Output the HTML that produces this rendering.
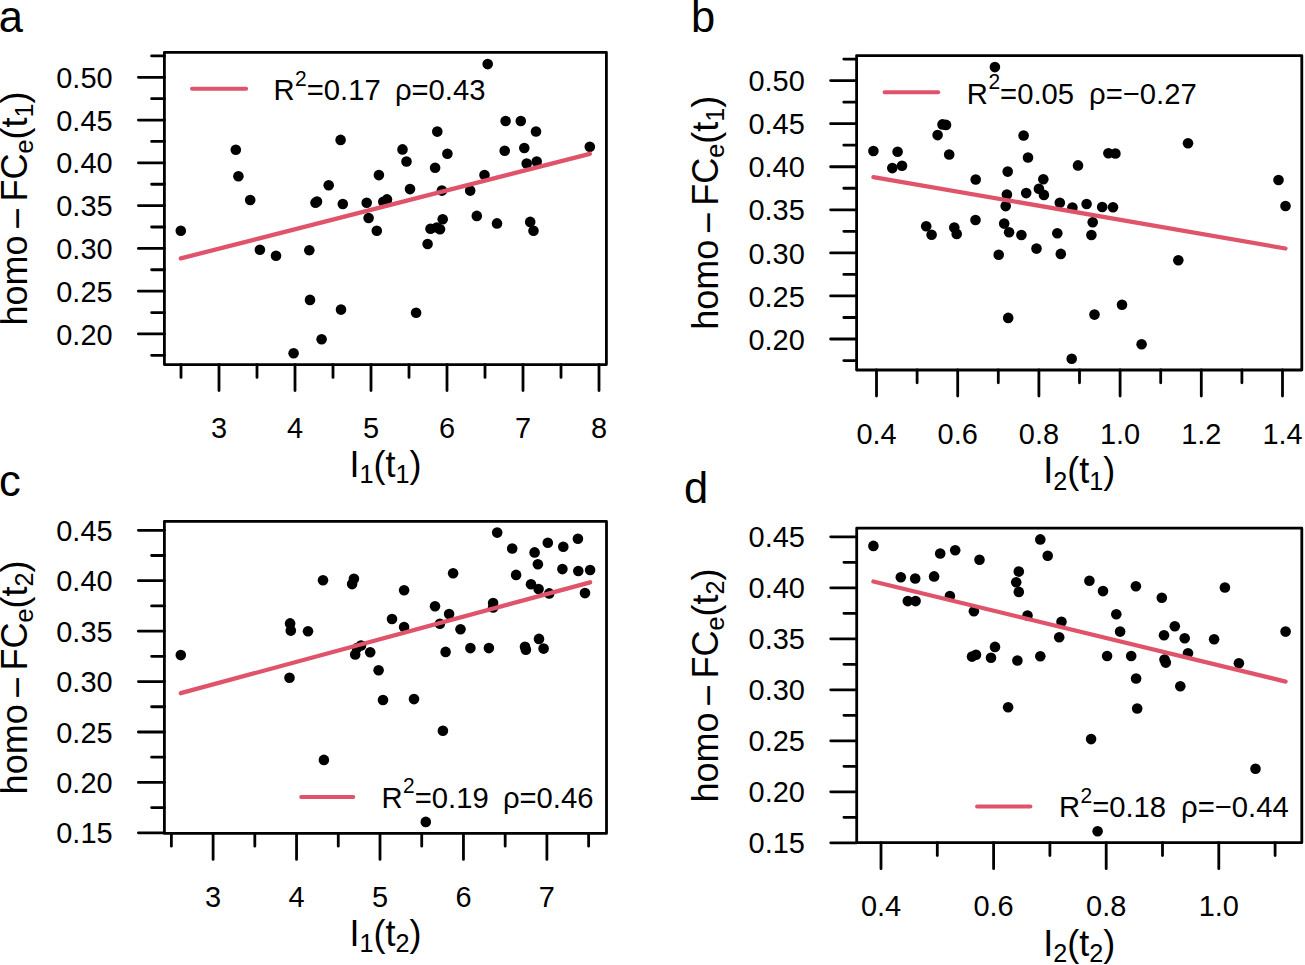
<!DOCTYPE html>
<html><head><meta charset="utf-8"><title>figure</title>
<style>html,body{margin:0;padding:0;background:#fff;width:1305px;height:965px;overflow:hidden}
svg{display:block;font-family:"Liberation Sans",sans-serif}</style></head>
<body><svg width="1305" height="965" viewBox="0 0 1305 965">
<rect width="1305" height="965" fill="#fff"/>
<path d="M164.4 55.91H151.6M164.4 77.3H138.4M164.4 98.69H151.6M164.4 120.07H138.4M164.4 141.46H151.6M164.4 162.84H138.4M164.4 184.23H151.6M164.4 205.61H138.4M164.4 227H151.6M164.4 248.38H138.4M164.4 269.76H151.6M164.4 291.15H138.4M164.4 312.54H151.6M164.4 333.92H138.4M164.4 355.31H151.6M181 364.6V377.4M219 364.6V390.6M257 364.6V377.4M295 364.6V390.6M333 364.6V377.4M371 364.6V390.6M409 364.6V377.4M447 364.6V390.6M485 364.6V377.4M523 364.6V390.6M561 364.6V377.4M599 364.6V390.6" stroke="#000" stroke-width="2.8" stroke-linecap="round" fill="none"/>
<rect x="164.4" y="52.4" width="442" height="312.2" fill="none" stroke="#000" stroke-width="2.8" stroke-linejoin="round"/>
<text transform="translate(112.6 87.92) scale(0.965 1.0)" text-anchor="end" font-size="30">0.50</text>
<text transform="translate(112.6 130.69) scale(0.965 1.0)" text-anchor="end" font-size="30">0.45</text>
<text transform="translate(112.6 173.46) scale(0.965 1.0)" text-anchor="end" font-size="30">0.40</text>
<text transform="translate(112.6 216.23) scale(0.965 1.0)" text-anchor="end" font-size="30">0.35</text>
<text transform="translate(112.6 259) scale(0.965 1.0)" text-anchor="end" font-size="30">0.30</text>
<text transform="translate(112.6 301.77) scale(0.965 1.0)" text-anchor="end" font-size="30">0.25</text>
<text transform="translate(112.6 344.54) scale(0.965 1.0)" text-anchor="end" font-size="30">0.20</text>
<text transform="translate(219 438) scale(0.965 1.0)" text-anchor="middle" font-size="30">3</text>
<text transform="translate(295 438) scale(0.965 1.0)" text-anchor="middle" font-size="30">4</text>
<text transform="translate(371 438) scale(0.965 1.0)" text-anchor="middle" font-size="30">5</text>
<text transform="translate(447 438) scale(0.965 1.0)" text-anchor="middle" font-size="30">6</text>
<text transform="translate(523 438) scale(0.965 1.0)" text-anchor="middle" font-size="30">7</text>
<text transform="translate(599 438) scale(0.965 1.0)" text-anchor="middle" font-size="30">8</text>
<text transform="translate(385.4 476.9) scale(0.96 1)" text-anchor="middle" font-size="37.5">I<tspan font-size="26.25" dy="6.5">1</tspan><tspan dy="-6.5">(t</tspan><tspan font-size="26.25" dy="6.5">1</tspan><tspan dy="-6.5">)</tspan></text>
<text transform="translate(26.9 325.49) rotate(-90) scale(0.96 1)" text-anchor="start" font-size="37.5">homo</text>
<text transform="translate(26.9 218.5) rotate(-90) scale(1.03 1)" text-anchor="middle" font-size="37.5"><tspan dy="3.2">−</tspan></text>
<text transform="translate(26.9 201.55) rotate(-90) scale(0.96 1)" text-anchor="start" font-size="37.5">FC<tspan font-size="26.25" dy="6.5">e</tspan><tspan dy="-6.5">(t</tspan><tspan font-size="26.25" dy="6.5">1</tspan><tspan dy="-6.5">)</tspan></text>
<circle cx="180.8" cy="230.8" r="5.3"/>
<circle cx="235.8" cy="149.8" r="5.3"/>
<circle cx="238.4" cy="176.2" r="5.3"/>
<circle cx="250.2" cy="200" r="5.3"/>
<circle cx="259.9" cy="249.7" r="5.3"/>
<circle cx="276" cy="255.7" r="5.3"/>
<circle cx="293.6" cy="353.3" r="5.3"/>
<circle cx="309.3" cy="250.2" r="5.3"/>
<circle cx="310" cy="299.9" r="5.3"/>
<circle cx="315.5" cy="202.8" r="5.3"/>
<circle cx="317" cy="201.5" r="5.3"/>
<circle cx="321.6" cy="339.2" r="5.3"/>
<circle cx="328.7" cy="185.3" r="5.3"/>
<circle cx="340.6" cy="139.9" r="5.3"/>
<circle cx="341" cy="309.6" r="5.3"/>
<circle cx="342.8" cy="204" r="5.3"/>
<circle cx="366.7" cy="202.8" r="5.3"/>
<circle cx="368.6" cy="218" r="5.3"/>
<circle cx="376.8" cy="230.8" r="5.3"/>
<circle cx="378.9" cy="175.1" r="5.3"/>
<circle cx="383.3" cy="201.7" r="5.3"/>
<circle cx="387" cy="199.4" r="5.3"/>
<circle cx="402.5" cy="149.4" r="5.3"/>
<circle cx="406.5" cy="161.5" r="5.3"/>
<circle cx="410" cy="189.1" r="5.3"/>
<circle cx="416.1" cy="312.8" r="5.3"/>
<circle cx="427.6" cy="244" r="5.3"/>
<circle cx="430.5" cy="228.7" r="5.3"/>
<circle cx="436.8" cy="227.5" r="5.3"/>
<circle cx="440" cy="229.3" r="5.3"/>
<circle cx="442.7" cy="219.3" r="5.3"/>
<circle cx="435.1" cy="167.7" r="5.3"/>
<circle cx="437.3" cy="131.6" r="5.3"/>
<circle cx="441.9" cy="190.6" r="5.3"/>
<circle cx="447.4" cy="153.8" r="5.3"/>
<circle cx="470.2" cy="190.6" r="5.3"/>
<circle cx="476.8" cy="215.9" r="5.3"/>
<circle cx="484.5" cy="175" r="5.3"/>
<circle cx="487.7" cy="64.1" r="5.3"/>
<circle cx="497" cy="223.4" r="5.3"/>
<circle cx="504.7" cy="150.8" r="5.3"/>
<circle cx="505.6" cy="121" r="5.3"/>
<circle cx="520.8" cy="121" r="5.3"/>
<circle cx="524.3" cy="148" r="5.3"/>
<circle cx="526.7" cy="163.6" r="5.3"/>
<circle cx="530.2" cy="221.9" r="5.3"/>
<circle cx="533.5" cy="230.7" r="5.3"/>
<circle cx="536" cy="131.5" r="5.3"/>
<circle cx="536.7" cy="161.5" r="5.3"/>
<circle cx="589.8" cy="146.8" r="5.3"/>
<line x1="180.8" y1="258.4" x2="589.8" y2="153.8" stroke="#DF536B" stroke-width="4.3" stroke-linecap="round"/>
<line x1="192" y1="88.8" x2="246.1" y2="88.8" stroke="#DF536B" stroke-width="4" stroke-linecap="round"/>
<text transform="translate(273.5 100.2) scale(0.975 1)" font-size="30">R<tspan font-size="21.5" dy="-14.5" dx="0.5">2</tspan><tspan dy="14.5">=0.17</tspan></text>
<text transform="translate(394.91 100.2) scale(0.975 1)" font-size="30">ρ=0.43</text>
<text x="-1.2" y="32.2" font-size="43.5">a</text>
<path d="M856.6 59.06H843.8M856.6 80.6H830.6M856.6 102.14H843.8M856.6 123.67H830.6M856.6 145.2H843.8M856.6 166.74H830.6M856.6 188.27H843.8M856.6 209.81H830.6M856.6 231.34H843.8M856.6 252.88H830.6M856.6 274.41H843.8M856.6 295.95H830.6M856.6 317.49H843.8M856.6 339.02H830.6M856.6 360.55H843.8M876.5 370V396M917.1 370V382.8M957.7 370V396M998.3 370V382.8M1038.9 370V396M1079.5 370V382.8M1120.1 370V396M1160.7 370V382.8M1201.3 370V396M1241.9 370V382.8M1282.5 370V396" stroke="#000" stroke-width="2.8" stroke-linecap="round" fill="none"/>
<rect x="856.6" y="55.6" width="445.2" height="314.4" fill="none" stroke="#000" stroke-width="2.8" stroke-linejoin="round"/>
<text transform="translate(804.8 91.22) scale(0.965 1.0)" text-anchor="end" font-size="30">0.50</text>
<text transform="translate(804.8 134.29) scale(0.965 1.0)" text-anchor="end" font-size="30">0.45</text>
<text transform="translate(804.8 177.36) scale(0.965 1.0)" text-anchor="end" font-size="30">0.40</text>
<text transform="translate(804.8 220.43) scale(0.965 1.0)" text-anchor="end" font-size="30">0.35</text>
<text transform="translate(804.8 263.5) scale(0.965 1.0)" text-anchor="end" font-size="30">0.30</text>
<text transform="translate(804.8 306.57) scale(0.965 1.0)" text-anchor="end" font-size="30">0.25</text>
<text transform="translate(804.8 349.64) scale(0.965 1.0)" text-anchor="end" font-size="30">0.20</text>
<text transform="translate(876.5 443.9) scale(0.965 1.0)" text-anchor="middle" font-size="30">0.4</text>
<text transform="translate(957.7 443.9) scale(0.965 1.0)" text-anchor="middle" font-size="30">0.6</text>
<text transform="translate(1038.9 443.9) scale(0.965 1.0)" text-anchor="middle" font-size="30">0.8</text>
<text transform="translate(1120.1 443.9) scale(0.965 1.0)" text-anchor="middle" font-size="30">1.0</text>
<text transform="translate(1201.3 443.9) scale(0.965 1.0)" text-anchor="middle" font-size="30">1.2</text>
<text transform="translate(1282.5 443.9) scale(0.965 1.0)" text-anchor="middle" font-size="30">1.4</text>
<text transform="translate(1079.2 483.3) scale(0.96 1)" text-anchor="middle" font-size="37.5">I<tspan font-size="26.25" dy="6.5">2</tspan><tspan dy="-6.5">(t</tspan><tspan font-size="26.25" dy="6.5">1</tspan><tspan dy="-6.5">)</tspan></text>
<text transform="translate(717.9 329.79) rotate(-90) scale(0.96 1)" text-anchor="start" font-size="37.5">homo</text>
<text transform="translate(717.9 222.8) rotate(-90) scale(1.03 1)" text-anchor="middle" font-size="37.5"><tspan dy="3.2">−</tspan></text>
<text transform="translate(717.9 205.85) rotate(-90) scale(0.96 1)" text-anchor="start" font-size="37.5">FC<tspan font-size="26.25" dy="6.5">e</tspan><tspan dy="-6.5">(t</tspan><tspan font-size="26.25" dy="6.5">1</tspan><tspan dy="-6.5">)</tspan></text>
<circle cx="873.4" cy="151" r="5.3"/>
<circle cx="892.3" cy="168.1" r="5.3"/>
<circle cx="897.6" cy="151.7" r="5.3"/>
<circle cx="902" cy="165.8" r="5.3"/>
<circle cx="926.2" cy="226.3" r="5.3"/>
<circle cx="931.6" cy="234.8" r="5.3"/>
<circle cx="937.6" cy="135.1" r="5.3"/>
<circle cx="942.5" cy="124.4" r="5.3"/>
<circle cx="946" cy="124.9" r="5.3"/>
<circle cx="949.2" cy="154.5" r="5.3"/>
<circle cx="954.3" cy="227.6" r="5.3"/>
<circle cx="956.7" cy="233.9" r="5.3"/>
<circle cx="975.5" cy="220" r="5.3"/>
<circle cx="975.7" cy="179.5" r="5.3"/>
<circle cx="994.9" cy="67.1" r="5.3"/>
<circle cx="998.7" cy="254.8" r="5.3"/>
<circle cx="1004.2" cy="223.6" r="5.3"/>
<circle cx="1005.7" cy="206.1" r="5.3"/>
<circle cx="1006.9" cy="194.5" r="5.3"/>
<circle cx="1007.7" cy="171.6" r="5.3"/>
<circle cx="1008.2" cy="317.9" r="5.3"/>
<circle cx="1009.1" cy="232.3" r="5.3"/>
<circle cx="1021.4" cy="235" r="5.3"/>
<circle cx="1023.6" cy="135.5" r="5.3"/>
<circle cx="1026.2" cy="193.1" r="5.3"/>
<circle cx="1028" cy="157.5" r="5.3"/>
<circle cx="1036.5" cy="248.6" r="5.3"/>
<circle cx="1038.9" cy="188.7" r="5.3"/>
<circle cx="1043.3" cy="179.2" r="5.3"/>
<circle cx="1043.9" cy="194.9" r="5.3"/>
<circle cx="1057.3" cy="233.2" r="5.3"/>
<circle cx="1059.8" cy="202.8" r="5.3"/>
<circle cx="1060.8" cy="253.9" r="5.3"/>
<circle cx="1071.7" cy="358.7" r="5.3"/>
<circle cx="1072.4" cy="207.5" r="5.3"/>
<circle cx="1078" cy="165.4" r="5.3"/>
<circle cx="1086.6" cy="204" r="5.3"/>
<circle cx="1091.4" cy="235" r="5.3"/>
<circle cx="1092.7" cy="222.3" r="5.3"/>
<circle cx="1094.5" cy="314.6" r="5.3"/>
<circle cx="1102.2" cy="207" r="5.3"/>
<circle cx="1108.4" cy="153.2" r="5.3"/>
<circle cx="1113" cy="207.2" r="5.3"/>
<circle cx="1115.4" cy="153.5" r="5.3"/>
<circle cx="1122" cy="304.8" r="5.3"/>
<circle cx="1141.6" cy="344.3" r="5.3"/>
<circle cx="1178.3" cy="260.2" r="5.3"/>
<circle cx="1188" cy="143.3" r="5.3"/>
<circle cx="1278.5" cy="180" r="5.3"/>
<circle cx="1285.5" cy="206" r="5.3"/>
<line x1="873.4" y1="177.1" x2="1285.5" y2="248.5" stroke="#DF536B" stroke-width="4.3" stroke-linecap="round"/>
<line x1="884.6" y1="92.3" x2="938.2" y2="92.3" stroke="#DF536B" stroke-width="4" stroke-linecap="round"/>
<text transform="translate(966.8 103.6) scale(0.975 1)" font-size="30">R<tspan font-size="21.5" dy="-14.5" dx="0.5">2</tspan><tspan dy="14.5">=0.05</tspan></text>
<text transform="translate(1089.01 103.6) scale(0.975 1)" font-size="30">ρ=−0.27</text>
<text x="691" y="32" font-size="43.5">b</text>
<path d="M164.4 530.3H138.4M164.4 555.51H151.6M164.4 580.72H138.4M164.4 605.93H151.6M164.4 631.14H138.4M164.4 656.35H151.6M164.4 681.56H138.4M164.4 706.77H151.6M164.4 731.98H138.4M164.4 757.19H151.6M164.4 782.4H138.4M164.4 807.61H151.6M164.4 832.82H138.4M171.38 833.4V846.2M213.1 833.4V859.4M254.82 833.4V846.2M296.55 833.4V859.4M338.27 833.4V846.2M380 833.4V859.4M421.73 833.4V846.2M463.45 833.4V859.4M505.17 833.4V846.2M546.9 833.4V859.4M588.62 833.4V846.2" stroke="#000" stroke-width="2.8" stroke-linecap="round" fill="none"/>
<rect x="164.4" y="521.4" width="442.1" height="312" fill="none" stroke="#000" stroke-width="2.8" stroke-linejoin="round"/>
<text transform="translate(112.6 540.92) scale(0.965 1.0)" text-anchor="end" font-size="30">0.45</text>
<text transform="translate(112.6 591.34) scale(0.965 1.0)" text-anchor="end" font-size="30">0.40</text>
<text transform="translate(112.6 641.76) scale(0.965 1.0)" text-anchor="end" font-size="30">0.35</text>
<text transform="translate(112.6 692.18) scale(0.965 1.0)" text-anchor="end" font-size="30">0.30</text>
<text transform="translate(112.6 742.6) scale(0.965 1.0)" text-anchor="end" font-size="30">0.25</text>
<text transform="translate(112.6 793.02) scale(0.965 1.0)" text-anchor="end" font-size="30">0.20</text>
<text transform="translate(112.6 843.44) scale(0.965 1.0)" text-anchor="end" font-size="30">0.15</text>
<text transform="translate(213.1 906.8) scale(0.965 1.0)" text-anchor="middle" font-size="30">3</text>
<text transform="translate(296.55 906.8) scale(0.965 1.0)" text-anchor="middle" font-size="30">4</text>
<text transform="translate(380 906.8) scale(0.965 1.0)" text-anchor="middle" font-size="30">5</text>
<text transform="translate(463.45 906.8) scale(0.965 1.0)" text-anchor="middle" font-size="30">6</text>
<text transform="translate(546.9 906.8) scale(0.965 1.0)" text-anchor="middle" font-size="30">7</text>
<text transform="translate(385.45 945.6) scale(0.96 1)" text-anchor="middle" font-size="37.5">I<tspan font-size="26.25" dy="6.5">1</tspan><tspan dy="-6.5">(t</tspan><tspan font-size="26.25" dy="6.5">2</tspan><tspan dy="-6.5">)</tspan></text>
<text transform="translate(26.9 794.39) rotate(-90) scale(0.96 1)" text-anchor="start" font-size="37.5">homo</text>
<text transform="translate(26.9 687.4) rotate(-90) scale(1.03 1)" text-anchor="middle" font-size="37.5"><tspan dy="3.2">−</tspan></text>
<text transform="translate(26.9 670.45) rotate(-90) scale(0.96 1)" text-anchor="start" font-size="37.5">FC<tspan font-size="26.25" dy="6.5">e</tspan><tspan dy="-6.5">(t</tspan><tspan font-size="26.25" dy="6.5">2</tspan><tspan dy="-6.5">)</tspan></text>
<circle cx="180.8" cy="655.1" r="5.3"/>
<circle cx="289.5" cy="677.7" r="5.3"/>
<circle cx="290.1" cy="623.4" r="5.3"/>
<circle cx="290.8" cy="630.6" r="5.3"/>
<circle cx="308" cy="631.3" r="5.3"/>
<circle cx="323" cy="580.2" r="5.3"/>
<circle cx="323.9" cy="759.9" r="5.3"/>
<circle cx="352.1" cy="584.1" r="5.3"/>
<circle cx="353.9" cy="578.8" r="5.3"/>
<circle cx="355.2" cy="654.5" r="5.3"/>
<circle cx="357" cy="648" r="5.3"/>
<circle cx="361" cy="645.5" r="5.3"/>
<circle cx="370.2" cy="652.3" r="5.3"/>
<circle cx="378.6" cy="670.3" r="5.3"/>
<circle cx="383" cy="700" r="5.3"/>
<circle cx="392" cy="619" r="5.3"/>
<circle cx="404.1" cy="590.3" r="5.3"/>
<circle cx="404.1" cy="627" r="5.3"/>
<circle cx="414" cy="699.1" r="5.3"/>
<circle cx="425.8" cy="821.9" r="5.3"/>
<circle cx="435" cy="606.3" r="5.3"/>
<circle cx="439.9" cy="623.7" r="5.3"/>
<circle cx="442.9" cy="730.8" r="5.3"/>
<circle cx="445.6" cy="651.9" r="5.3"/>
<circle cx="449.1" cy="614" r="5.3"/>
<circle cx="453.1" cy="573.2" r="5.3"/>
<circle cx="460.5" cy="629.2" r="5.3"/>
<circle cx="470.4" cy="648.1" r="5.3"/>
<circle cx="488.9" cy="648.1" r="5.3"/>
<circle cx="493.1" cy="603.1" r="5.3"/>
<circle cx="493.1" cy="607.5" r="5.3"/>
<circle cx="497.2" cy="532.6" r="5.3"/>
<circle cx="512.2" cy="548.5" r="5.3"/>
<circle cx="516.1" cy="574.9" r="5.3"/>
<circle cx="525" cy="646.8" r="5.3"/>
<circle cx="525.9" cy="649.8" r="5.3"/>
<circle cx="531" cy="584.3" r="5.3"/>
<circle cx="534.6" cy="552.4" r="5.3"/>
<circle cx="537.9" cy="564.3" r="5.3"/>
<circle cx="538.6" cy="589" r="5.3"/>
<circle cx="539" cy="638.9" r="5.3"/>
<circle cx="543.6" cy="648.6" r="5.3"/>
<circle cx="547.8" cy="542.8" r="5.3"/>
<circle cx="549.2" cy="593.4" r="5.3"/>
<circle cx="562.4" cy="569.1" r="5.3"/>
<circle cx="563.3" cy="546.7" r="5.3"/>
<circle cx="577.9" cy="538.8" r="5.3"/>
<circle cx="578.3" cy="571" r="5.3"/>
<circle cx="585" cy="593.1" r="5.3"/>
<circle cx="590.1" cy="570" r="5.3"/>
<line x1="180.8" y1="693.2" x2="590.1" y2="582.3" stroke="#DF536B" stroke-width="4.3" stroke-linecap="round"/>
<line x1="301.2" y1="796.9" x2="353.3" y2="796.9" stroke="#DF536B" stroke-width="4" stroke-linecap="round"/>
<text transform="translate(381.5 807.8) scale(0.975 1)" font-size="30">R<tspan font-size="21.5" dy="-14.5" dx="0.5">2</tspan><tspan dy="14.5">=0.19</tspan></text>
<text transform="translate(502.91 807.8) scale(0.975 1)" font-size="30">ρ=0.46</text>
<text x="-1" y="496" font-size="43.5">c</text>
<path d="M856.7 536.8H830.7M856.7 562.3H843.9M856.7 587.8H830.7M856.7 613.3H843.9M856.7 638.8H830.7M856.7 664.3H843.9M856.7 689.8H830.7M856.7 715.3H843.9M856.7 740.8H830.7M856.7 766.3H843.9M856.7 791.8H830.7M856.7 817.3H843.9M856.7 842.8H830.7M881 842.7V868.7M937.3 842.7V855.5M993.6 842.7V868.7M1049.9 842.7V855.5M1106.2 842.7V868.7M1162.5 842.7V855.5M1218.8 842.7V868.7M1275.1 842.7V855.5" stroke="#000" stroke-width="2.8" stroke-linecap="round" fill="none"/>
<rect x="856.7" y="528.2" width="445.1" height="314.5" fill="none" stroke="#000" stroke-width="2.8" stroke-linejoin="round"/>
<text transform="translate(804.9 547.42) scale(0.965 1.0)" text-anchor="end" font-size="30">0.45</text>
<text transform="translate(804.9 598.42) scale(0.965 1.0)" text-anchor="end" font-size="30">0.40</text>
<text transform="translate(804.9 649.42) scale(0.965 1.0)" text-anchor="end" font-size="30">0.35</text>
<text transform="translate(804.9 700.42) scale(0.965 1.0)" text-anchor="end" font-size="30">0.30</text>
<text transform="translate(804.9 751.42) scale(0.965 1.0)" text-anchor="end" font-size="30">0.25</text>
<text transform="translate(804.9 802.42) scale(0.965 1.0)" text-anchor="end" font-size="30">0.20</text>
<text transform="translate(804.9 853.42) scale(0.965 1.0)" text-anchor="end" font-size="30">0.15</text>
<text transform="translate(881 916.4) scale(0.965 1.0)" text-anchor="middle" font-size="30">0.4</text>
<text transform="translate(993.6 916.4) scale(0.965 1.0)" text-anchor="middle" font-size="30">0.6</text>
<text transform="translate(1106.2 916.4) scale(0.965 1.0)" text-anchor="middle" font-size="30">0.8</text>
<text transform="translate(1218.8 916.4) scale(0.965 1.0)" text-anchor="middle" font-size="30">1.0</text>
<text transform="translate(1079.25 955.6) scale(0.96 1)" text-anchor="middle" font-size="37.5">I<tspan font-size="26.25" dy="6.5">2</tspan><tspan dy="-6.5">(t</tspan><tspan font-size="26.25" dy="6.5">2</tspan><tspan dy="-6.5">)</tspan></text>
<text transform="translate(717.9 802.44) rotate(-90) scale(0.96 1)" text-anchor="start" font-size="37.5">homo</text>
<text transform="translate(717.9 695.45) rotate(-90) scale(1.03 1)" text-anchor="middle" font-size="37.5"><tspan dy="3.2">−</tspan></text>
<text transform="translate(717.9 678.5) rotate(-90) scale(0.96 1)" text-anchor="start" font-size="37.5">FC<tspan font-size="26.25" dy="6.5">e</tspan><tspan dy="-6.5">(t</tspan><tspan font-size="26.25" dy="6.5">2</tspan><tspan dy="-6.5">)</tspan></text>
<circle cx="873.4" cy="545.9" r="5.3"/>
<circle cx="900.8" cy="577.3" r="5.3"/>
<circle cx="907.8" cy="601.1" r="5.3"/>
<circle cx="915.2" cy="578.5" r="5.3"/>
<circle cx="915.6" cy="601.1" r="5.3"/>
<circle cx="934.1" cy="576.4" r="5.3"/>
<circle cx="940.2" cy="553.5" r="5.3"/>
<circle cx="949.9" cy="596.1" r="5.3"/>
<circle cx="955.2" cy="550.3" r="5.3"/>
<circle cx="972" cy="656.6" r="5.3"/>
<circle cx="973.9" cy="611.3" r="5.3"/>
<circle cx="976" cy="654.8" r="5.3"/>
<circle cx="979.5" cy="559.7" r="5.3"/>
<circle cx="991" cy="657.8" r="5.3"/>
<circle cx="995" cy="646.9" r="5.3"/>
<circle cx="1008.1" cy="707.3" r="5.3"/>
<circle cx="1016.2" cy="582.2" r="5.3"/>
<circle cx="1017.4" cy="660.5" r="5.3"/>
<circle cx="1018.8" cy="571.6" r="5.3"/>
<circle cx="1018.8" cy="591.9" r="5.3"/>
<circle cx="1027.5" cy="615.5" r="5.3"/>
<circle cx="1040.3" cy="539.4" r="5.3"/>
<circle cx="1040.3" cy="656.2" r="5.3"/>
<circle cx="1047.7" cy="555.8" r="5.3"/>
<circle cx="1059.2" cy="637.2" r="5.3"/>
<circle cx="1061.5" cy="621.7" r="5.3"/>
<circle cx="1089.4" cy="580.7" r="5.3"/>
<circle cx="1091.1" cy="739.1" r="5.3"/>
<circle cx="1097.6" cy="831.3" r="5.3"/>
<circle cx="1103" cy="591.1" r="5.3"/>
<circle cx="1107.1" cy="656" r="5.3"/>
<circle cx="1116.3" cy="614.2" r="5.3"/>
<circle cx="1120.1" cy="631.6" r="5.3"/>
<circle cx="1131.2" cy="656" r="5.3"/>
<circle cx="1135.9" cy="586.3" r="5.3"/>
<circle cx="1136.1" cy="678.5" r="5.3"/>
<circle cx="1137.2" cy="708.5" r="5.3"/>
<circle cx="1161.8" cy="597.8" r="5.3"/>
<circle cx="1164" cy="635.3" r="5.3"/>
<circle cx="1164.5" cy="659.6" r="5.3"/>
<circle cx="1165.8" cy="662.6" r="5.3"/>
<circle cx="1174.8" cy="626.2" r="5.3"/>
<circle cx="1180.3" cy="686.2" r="5.3"/>
<circle cx="1184.7" cy="638.3" r="5.3"/>
<circle cx="1188" cy="653.3" r="5.3"/>
<circle cx="1214.1" cy="639.2" r="5.3"/>
<circle cx="1224.9" cy="587.5" r="5.3"/>
<circle cx="1238.9" cy="663.2" r="5.3"/>
<circle cx="1255.5" cy="768.8" r="5.3"/>
<circle cx="1285.6" cy="631.6" r="5.3"/>
<line x1="873.4" y1="581.5" x2="1285.6" y2="681.6" stroke="#DF536B" stroke-width="4.3" stroke-linecap="round"/>
<line x1="977.1" y1="806.4" x2="1030.4" y2="806.4" stroke="#DF536B" stroke-width="4" stroke-linecap="round"/>
<text transform="translate(1058.9 817.2) scale(0.975 1)" font-size="30">R<tspan font-size="21.5" dy="-14.5" dx="0.5">2</tspan><tspan dy="14.5">=0.18</tspan></text>
<text transform="translate(1181.01 817.2) scale(0.975 1)" font-size="30">ρ=−0.44</text>
<text x="684" y="503.2" font-size="43.5">d</text>
</svg></body></html>
